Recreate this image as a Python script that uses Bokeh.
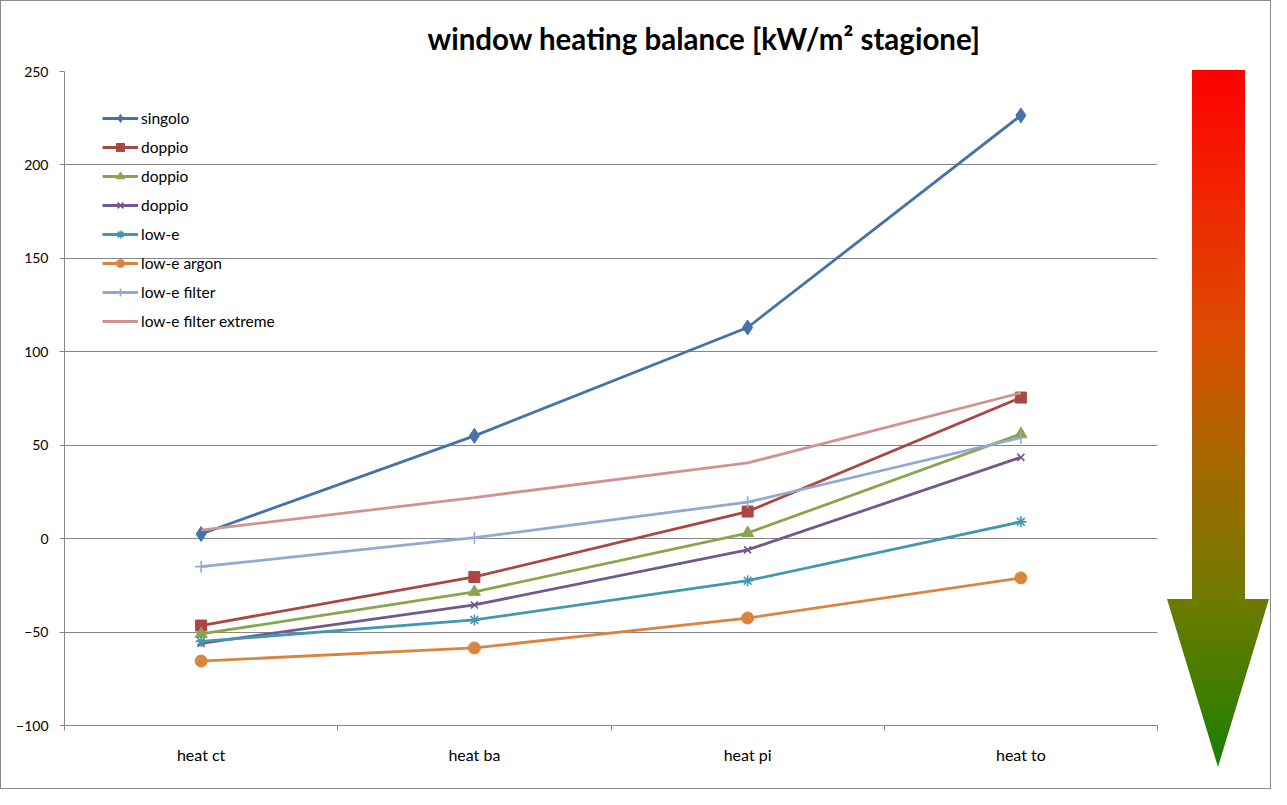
from bokeh.plotting import figure
from bokeh.models import Range1d, FixedTicker, Legend, LegendItem, Div
from bokeh.layouts import row
from bokeh.embed import file_html
from bokeh.resources import INLINE

# ---------------- data ----------------
categories = ["heat ct", "heat ba", "heat pi", "heat to"]
series_names = ["singolo", "doppio", "doppio", "doppio", "low-e",
                "low-e argon", "low-e filter", "low-e filter extreme"]
singolo = [2.5, 55, 113, 226.5]
doppio_1 = [-46.5, -20.5, 14.5, 75.5]
doppio_2 = [-51, -28.5, 3, 56]
doppio_3 = [-56, -35.5, -6, 43.5]
low_e = [-55, -43.5, -22.5, 9]
low_e_argon = [-65.5, -58.5, -42.5, -21]
low_e_filter = [-15, 0.5, 19.5, 54]
low_e_filter_extreme = [4.5, 22, 40.5, 78]
y_ticks = [-100, -50, 0, 50, 100, 150, 200, 250]

series_values = [singolo, doppio_1, doppio_2, doppio_3, low_e,
                 low_e_argon, low_e_filter, low_e_filter_extreme]

# ---------------- styles ----------------
colors = ["#4572A7", "#AA4643", "#89A54E", "#71588F", "#4198AF",
          "#DB843D", "#93A9CF", "#D19392"]
markers = ["diamond", "square", "triangle", "x", "asterisk", "circle", "cross", None]
msizes = [15, 11, 12, 10, 11, 12, 12, 0]
FONT = "Lato"
GRID = "#868686"

W_MAIN, H = 1164, 787

p = figure(width=W_MAIN, height=H, output_backend="svg", toolbar_location=None,
           x_range=Range1d(0, len(categories)), y_range=Range1d(y_ticks[0], y_ticks[-1]),
           min_border_left=63, min_border_right=8, min_border_top=70, min_border_bottom=63)
p.outline_line_color = None
p.background_fill_color = "white"
p.border_fill_color = "white"

p.title.text = "window heating balance [kW/m\u00b2 stagione]"
p.title.text_font = FONT
p.title.text_font_style = "bold"
p.title.text_font_size = "29.5px"
p.title.text_color = "#000000"
p.title.align = "left"
p.title.offset = 363
p.title.standoff = 31

xs = [i + 0.5 for i in range(len(categories))]

# x axis
p.xaxis.ticker = FixedTicker(ticks=xs, minor_ticks=list(range(len(categories) + 1)))
p.xaxis.major_label_overrides = {x: c for x, c in zip(xs, categories)}
p.xaxis.major_tick_out = 0
p.xaxis.major_tick_in = 0
p.xaxis.minor_tick_out = 5
p.xaxis.minor_tick_in = 0
p.xaxis.minor_tick_line_color = GRID
p.xaxis.axis_line_color = GRID
p.xaxis.major_label_text_font = FONT
p.xaxis.major_label_text_font_size = "16px"
p.xaxis.major_label_text_color = "#000000"
p.xaxis.major_label_standoff = 14
p.xgrid.grid_line_color = None

# y axis
p.yaxis.ticker = FixedTicker(ticks=y_ticks, minor_ticks=[])
p.yaxis.major_tick_out = 5
p.yaxis.major_tick_in = 0
p.yaxis.major_tick_line_color = GRID
p.yaxis.axis_line_color = GRID
p.yaxis.major_label_text_font = FONT
p.yaxis.major_label_text_font_size = "14px"
p.yaxis.major_label_text_color = "#000000"
p.yaxis.major_label_standoff = 11
p.ygrid.grid_line_color = GRID
p.ygrid.grid_line_width = 1

items = []
for name, vals, col, mk, ms in zip(series_names, series_values, colors, markers, msizes):
    rs = [p.line(xs, vals, line_color=col, line_width=2.8)]
    if mk is not None:
        lw = 1.6 if mk in ("x", "asterisk", "cross") else 1
        rs.append(p.scatter(xs, vals, marker=mk, size=ms, fill_color=col,
                            line_color=col, line_width=lw))
    items.append(LegendItem(label=name, renderers=rs))

legend = Legend(items=items, location=(38, 394), padding=0, margin=0,
                border_line_color=None, background_fill_alpha=0,
                glyph_width=36, glyph_height=20, label_height=20,
                label_standoff=3, spacing=9,
                label_text_font=FONT, label_text_font_size="15.5px",
                label_text_color="#000000")
p.add_layout(legend, "center")

# ---------------- gradient arrow (decoration) ----------------
W_ARR = 105
arrow_html = (
    '<div style="position:relative;width:%dpx;height:%dpx;overflow:hidden;">'
    '<div style="position:absolute;left:2px;top:69px;width:102px;height:697px;'
    'background:linear-gradient(to bottom,#ff0000 0%%,#f02400 18%%,#dc4c00 38%%,'
    '#a06a00 58%%,#6f7a00 76%%,#1a8000 100%%);'
    'clip-path:polygon(25px 0,78px 0,78px 529px,102px 529px,51px 697px,0 529px,25px 529px);">'
    '</div></div>' % (W_ARR, H)
)
arrow = Div(text=arrow_html, width=W_ARR, height=H,
            styles={"padding": "0", "margin": "0", "background": "white"})

layout = row(p, arrow, styles={"border": "1px solid #8c8c8c", "background": "white"})

open("out.html", "w").write(file_html(layout, INLINE))
